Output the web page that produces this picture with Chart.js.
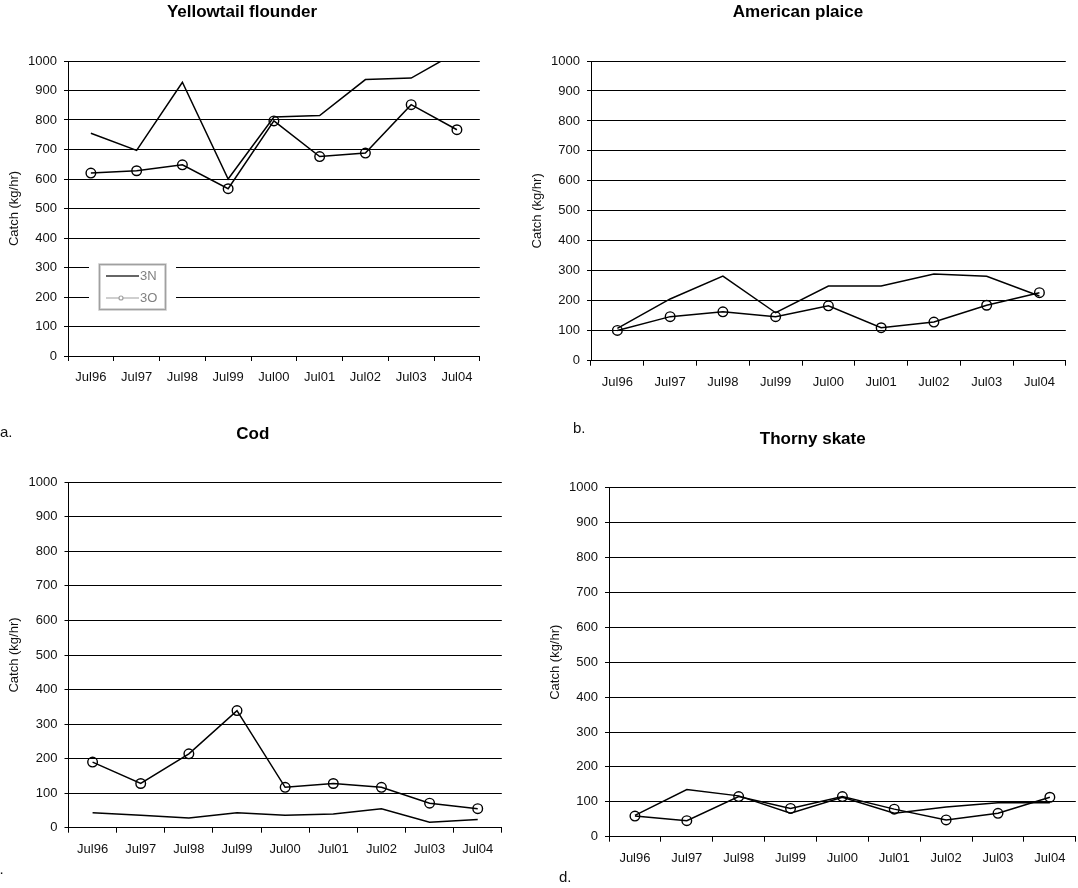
<!DOCTYPE html>
<html>
<head>
<meta charset="utf-8">
<script src="https://cdn.jsdelivr.net/npm/chart.js@4.4.1/dist/chart.umd.min.js"></script>
<style>
  html, body { margin: 0; padding: 0; background: #fff; overflow: hidden; width: 1078px; height: 888px; }
  canvas { position: absolute; }
</style>
</head>
<body>
<canvas id="yellowtail"></canvas>
<canvas id="plaice"></canvas>
<canvas id="cod"></canvas>
<canvas id="skate"></canvas>
<script>
// Survey periods on the x axis
const surveys = ['Jul96', 'Jul97', 'Jul98', 'Jul99', 'Jul00', 'Jul01', 'Jul02', 'Jul03', 'Jul04'];
const divisions = ['3N', '3O'];

// Mean catch (kg/hr) by division
const yellowtail3N = [755, 697, 928, 600, 810, 815, 937, 942, 1030];
const yellowtail3O = [620, 628, 648, 567, 797, 676, 688, 852, 767];
const plaice3N = [108, 206, 282, 160, 249, 249, 289, 282, 216];
const plaice3O = [101, 147, 163, 147, 183, 110, 129, 185, 227];
const cod3N = [43, 36, 28, 43, 36, 40, 55, 16, 24];
const cod3O = [190, 128, 214, 339, 117, 128, 117, 71, 55];
const skate3N = [61, 135, 117, 67, 113, 67, 85, 97, 97];
const skate3O = [59, 46, 115, 81, 115, 79, 48, 67, 113];

const yMin = 0, yMax = 1000, yStep = 100;
const yAxisTitle = 'Catch (kg/hr)';

Chart.defaults.font.family = "'Liberation Sans', Arial, sans-serif";
Chart.defaults.color = '#000';

// Small panel letters (a., b., ...) placed next to the charts
const captionPlugin = {
  id: 'panelCaption',
  afterDraw(chart, args, opts) {
    if (!opts.items) return;
    const ctx = chart.ctx;
    ctx.save();
    ctx.font = "15px 'Liberation Sans', Arial, sans-serif";
    ctx.fillStyle = '#111';
    ctx.textBaseline = 'alphabetic';
    ctx.textAlign = 'left';
    opts.items.forEach(it => ctx.fillText(it.text, it.x, it.y));
    ctx.restore();
  }
};

// Boxed legend sitting inside the plot area
const insetLegendPlugin = {
  id: 'insetLegend',
  afterDraw(chart, args, opts) {
    if (!opts.show) return;
    const ctx = chart.ctx;
    const {x, y} = opts;
    ctx.save();
    ctx.fillStyle = '#fff';
    ctx.fillRect(x - 10, y - 14, 87, 66);
    ctx.strokeStyle = 'rgba(0,0,0,0.12)';
    ctx.lineWidth = 3;
    ctx.strokeRect(x + 0.5, y + 0.5, 66, 45);
    ctx.strokeStyle = '#a0a0a0';
    ctx.lineWidth = 1.3;
    ctx.strokeRect(x + 0.5, y + 0.5, 66, 45);
    // 3N sample
    ctx.strokeStyle = '#333';
    ctx.lineWidth = 1.6;
    ctx.beginPath(); ctx.moveTo(x + 7, y + 12); ctx.lineTo(x + 40, y + 12); ctx.stroke();
    // 3O sample
    ctx.strokeStyle = '#a0a0a0';
    ctx.lineWidth = 1.2;
    ctx.beginPath(); ctx.moveTo(x + 7, y + 34); ctx.lineTo(x + 40, y + 34); ctx.stroke();
    ctx.fillStyle = '#fff';
    ctx.beginPath(); ctx.arc(x + 22, y + 34, 2, 0, Math.PI * 2); ctx.fill(); ctx.stroke();
    ctx.fillStyle = '#808080';
    ctx.font = "13px 'Liberation Sans', Arial, sans-serif";
    ctx.textBaseline = 'middle';
    ctx.fillText(divisions[0], x + 41, y + 12);
    ctx.fillText(divisions[1], x + 41, y + 34);
    ctx.restore();
  }
};

Chart.register(captionPlugin, insetLegendPlugin);

const TITLE_SIZE = 17, TICK_SIZE = 13;

function makePanel(id, g, titleText, v3N, v3O, extra) {
  const cv = document.getElementById(id);
  cv.width = g.W; cv.height = g.H;
  cv.style.left = g.L + 'px'; cv.style.top = g.T + 'px';
  cv.style.width = g.W + 'px'; cv.style.height = g.H + 'px';
  const titleLH = TITLE_SIZE * 1.2;
  const titleTop = g.titleY - g.T - titleLH / 2;
  const titleBottom = g.chartTop - g.T - titleTop - titleLH;
  const yAxisWidth = g.chartLeft - g.L;
  const xAxisHeight = g.T + g.H - g.chartBottom;
  const yTitlePad = g.yTitleX - g.L - TICK_SIZE * 1.2 / 2;

  return new Chart(cv, {
    type: 'line',
    data: {
      labels: surveys,
      datasets: [
        {
          label: divisions[0], data: v3N,
          borderColor: '#000', borderWidth: 1.5, pointRadius: 0,
          tension: 0, fill: false
        },
        {
          label: divisions[1], data: v3O,
          borderColor: '#000', borderWidth: 1.5,
          pointStyle: 'circle', pointRadius: 4.8, pointBorderWidth: 1.4,
          pointBorderColor: '#000', pointBackgroundColor: 'rgba(255,255,255,0)',
          tension: 0, fill: false
        }
      ]
    },
    options: {
      responsive: false,
      animation: false,
      events: [],
      layout: { padding: { left: 0, top: 0, bottom: 0, right: Math.max(0, g.L + g.W - g.chartRight) } },
      plugins: {
        legend: { display: false },
        tooltip: { enabled: false },
        title: {
          display: true, text: titleText, color: '#000',
          font: { size: TITLE_SIZE, weight: 'bold' },
          padding: { top: titleTop, bottom: titleBottom }
        },
        panelCaption: { items: extra.captions || [] },
        insetLegend: extra.legend || { show: false }
      },
      scales: {
        x: {
          offset: true,
          grid: { drawOnChartArea: false, drawTicks: true, tickLength: 5, offset: true, color: '#000', lineWidth: 1 },
          border: { display: true, color: '#000', width: 1 },
          ticks: { font: { size: TICK_SIZE }, color: '#111', padding: 9, maxRotation: 0, autoSkip: false },
          afterFit: s => { s.height = xAxisHeight; }
        },
        y: {
          min: yMin, max: yMax,
          grid: { color: '#000', lineWidth: 1, drawTicks: true, tickLength: 4 },
          border: { display: true, color: '#000', width: 1 },
          ticks: { stepSize: yStep, font: { size: TICK_SIZE }, color: '#111', padding: 7, callback: v => String(v) },
          title: { display: true, text: yAxisTitle, font: { size: TICK_SIZE }, color: '#111', padding: { top: yTitlePad, bottom: 0 } },
          afterFit: s => { s.width = yAxisWidth; }
        }
      }
    }
  });
}

makePanel('yellowtail',
  { L: 0, T: 0, W: 486, H: 400, chartLeft: 68, chartRight: 484, chartTop: 61, chartBottom: 356, titleY: 12.3, yTitleX: 14.5 },
  'Yellowtail flounder', yellowtail3N, yellowtail3O,
  { legend: { show: true, x: 99, y: 264 } });

makePanel('plaice',
  { L: 524, T: 0, W: 548, H: 400, chartLeft: 591, chartRight: 1072, chartTop: 61, chartBottom: 360.7, titleY: 12.3, yTitleX: 537 },
  'American plaice', plaice3N, plaice3O, {});

makePanel('cod',
  { L: 0, T: 400, W: 508, H: 488, chartLeft: 68.5, chartRight: 505.6, chartTop: 482.3, chartBottom: 827.7, titleY: 434, yTitleX: 14.5 },
  'Cod', cod3N, cod3O,
  { captions: [ { text: 'a.', x: 0, y: 37 }, { text: 'c.', x: -8, y: 473.5 } ] });

makePanel('skate',
  { L: 544, T: 400, W: 538, H: 488, chartLeft: 609, chartRight: 1081.5, chartTop: 487.7, chartBottom: 836.7, titleY: 439.3, yTitleX: 555.4 },
  'Thorny skate', skate3N, skate3O,
  { captions: [ { text: 'b.', x: 29, y: 33.3 }, { text: 'd.', x: 15, y: 481.7 } ] });
</script>
</body>
</html>
